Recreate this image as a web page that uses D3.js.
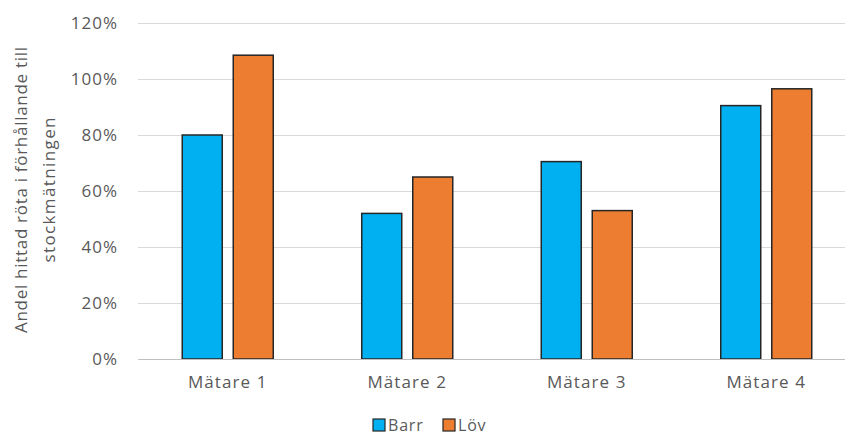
<!DOCTYPE html>
<html>
<head>
<meta charset="utf-8">
<script src="https://cdn.jsdelivr.net/npm/d3@7"></script>
<style>
  html, body { margin: 0; padding: 0; background: #fff; }
  svg { display: block; font-family: "Open Sans", sans-serif; }
</style>
</head>
<body>
<svg id="chart" width="845" height="435"></svg>
<script>
// Share of rot found relative to the log measurement, per measuring device
const categories = ["Mätare 1", "Mätare 2", "Mätare 3", "Mätare 4"];
const seriesNames = ["Barr", "Löv"];
const barrValues = [0.80, 0.52, 0.705, 0.905];
const lovValues = [1.085, 0.65, 0.53, 0.965];
const yTicks = [0, 0.2, 0.4, 0.6, 0.8, 1.0, 1.2];
const colors = ["#00B0F0", "#ED7D31"];
const yTitleLines = ["Andel hittad röta i förhållande till", "stockmätningen"];

const svg = d3.select("#chart");
const plot = { left: 138, right: 856, top: 23, bottom: 359 };
const textColor = "#595959";

const x0 = d3.scaleBand().domain(categories).range([plot.left, plot.right]).padding(0);
const bw = x0.bandwidth();
const x1 = d3.scaleBand().domain(seriesNames)
  .range([bw * 0.2465, bw * 0.7535])
  .paddingInner(0.2157).paddingOuter(0);
const y = d3.scaleLinear().domain([0, 1.2]).range([plot.bottom, plot.top]);
const color = d3.scaleOrdinal().domain(seriesNames).range(colors);

const rows = categories.map((c, i) => ({ cat: c, values: [barrValues[i], lovValues[i]] }));

// Horizontal gridlines
const grid = d3.axisLeft(y).tickValues(yTicks).tickSize(-(plot.right - plot.left)).tickFormat("");
svg.append("g")
  .attr("transform", `translate(${plot.left},0)`)
  .call(grid)
  .call(g => g.select(".domain").remove())
  .call(g => g.selectAll("line").attr("stroke", "#d9d9d9").attr("stroke-width", 1));

// Y tick labels
const yAxis = d3.axisLeft(y).tickValues(yTicks).tickSize(0).tickPadding(20).tickFormat(d3.format(".0%"));
svg.append("g")
  .attr("transform", `translate(${plot.left},0)`)
  .call(yAxis)
  .call(g => g.select(".domain").remove())
  .call(g => g.selectAll("text")
    .attr("fill", textColor)
    .style("font-size", "17px")
    .style("letter-spacing", "1px")
    .style("font-family", "'Open Sans', sans-serif"));

// Bars
const groups = svg.append("g").selectAll("g")
  .data(rows).join("g")
  .attr("transform", d => `translate(${x0(d.cat)},0)`);

groups.selectAll("rect")
  .data(d => seriesNames.map((s, i) => ({ key: s, value: d.values[i] })))
  .join("rect")
  .attr("x", d => x1(d.key))
  .attr("y", d => y(d.value))
  .attr("width", x1.bandwidth())
  .attr("height", d => y(0) - y(d.value))
  .attr("fill", d => color(d.key))
  .attr("stroke", "#262626")
  .attr("stroke-width", 1.5);

// Category axis
const xAxis = d3.axisBottom(x0).tickSize(0).tickPadding(17);
svg.append("g")
  .attr("transform", `translate(0,${plot.bottom})`)
  .call(xAxis)
  .call(g => g.select(".domain").attr("stroke", "#bfbfbf").attr("stroke-width", 1))
  .call(g => g.selectAll("text")
    .attr("fill", textColor)
    .style("font-size", "17px")
    .style("letter-spacing", "1.1px")
    .style("font-family", "'Open Sans', sans-serif"));

// Y axis title: two rotated lines, each centred on the plot's middle
const titleLengths = [286, 145];
svg.append("g").selectAll("text")
  .data(yTitleLines).join("text")
  .attr("transform", (d, i) => `translate(${i === 0 ? 21 : 49},190) rotate(-90)`)
  .attr("text-anchor", "middle")
  .attr("dy", "0.35em")
  .attr("fill", textColor)
  .style("font-size", "17px")
  .attr("textLength", (d, i) => titleLengths[i])
  .attr("lengthAdjust", "spacing")
  .text(d => d);

// Legend
const legendItems = [{ key: "Barr", x: 373 }, { key: "Löv", x: 443 }];
const legend = svg.append("g").attr("transform", "translate(0,419)");
const li = legend.selectAll("g").data(legendItems).join("g")
  .attr("transform", d => `translate(${d.x},0)`);
li.append("rect")
  .attr("width", 12).attr("height", 12)
  .attr("fill", d => color(d.key))
  .attr("stroke", "#262626").attr("stroke-width", 1.2);
li.append("text")
  .attr("x", 15).attr("y", 12)
  .attr("fill", textColor)
  .style("font-size", "16px")
  .style("letter-spacing", "0.8px")
  .text(d => d.key);
</script>
</body>
</html>
